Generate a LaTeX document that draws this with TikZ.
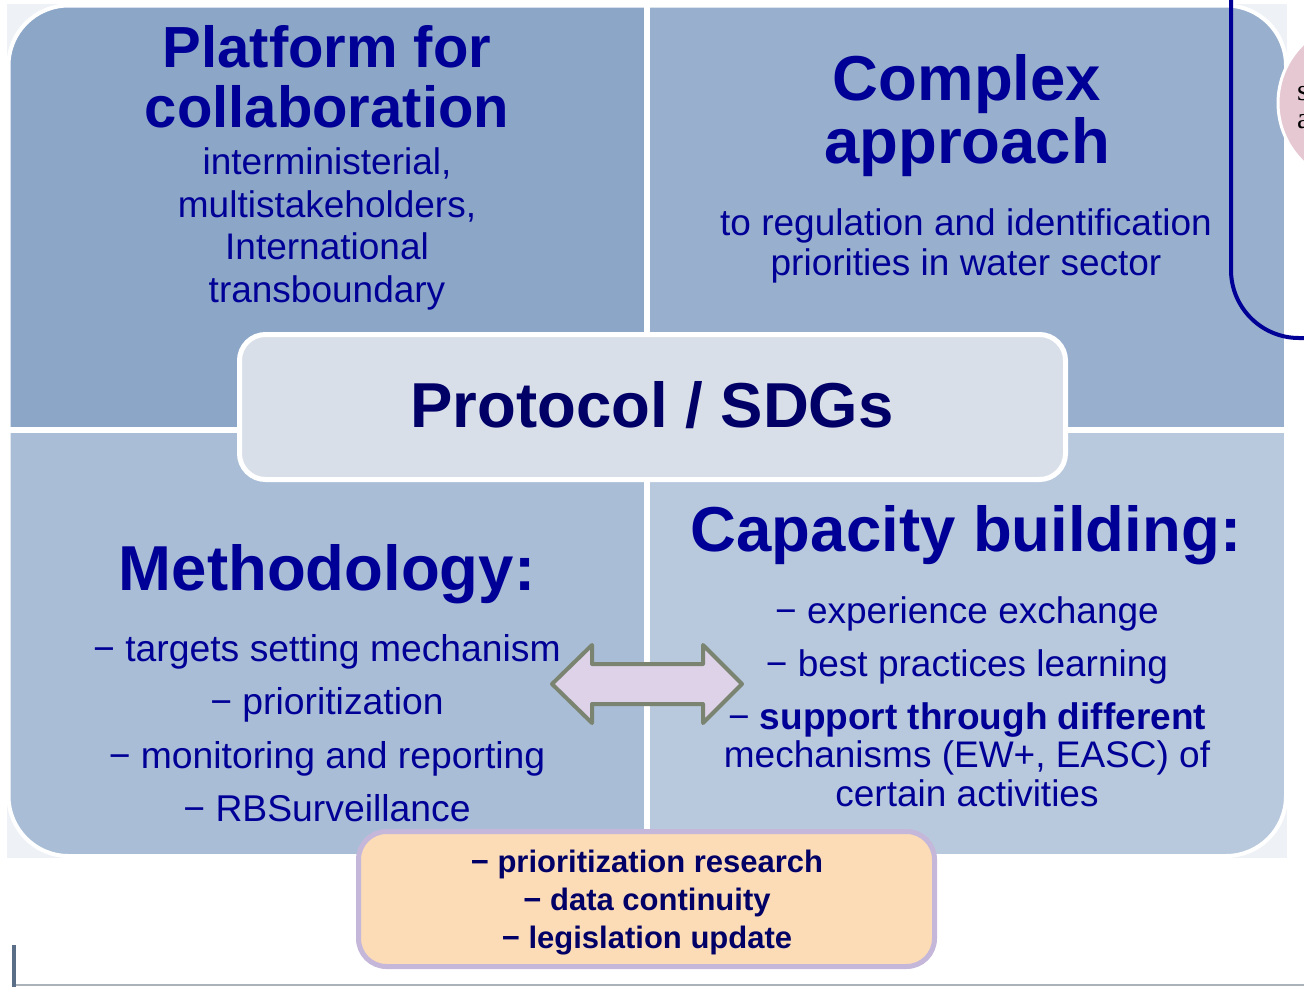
\documentclass[tikz,border=0pt]{standalone}
\usepackage{fontspec}
\setmainfont{Liberation Sans}
\newfontfamily\myserif{Liberation Serif}
\definecolor{pagebg}{RGB}{238,242,246}
\definecolor{qtl}{RGB}{139,166,199}
\definecolor{qtr}{RGB}{152,176,206}
\definecolor{qbl}{RGB}{169,190,214}
\definecolor{qbr}{RGB}{184,201,221}
\definecolor{navy}{RGB}{0,0,150}
\definecolor{darknavy}{RGB}{0,0,102}
\definecolor{centerfill}{RGB}{217,223,233}
\definecolor{notefill}{RGB}{251,220,182}
\definecolor{noteedge}{RGB}{197,183,217}
\definecolor{arrowfill}{RGB}{221,210,232}
\definecolor{arrowedge}{RGB}{122,132,112}
\definecolor{pinkfill}{RGB}{230,200,210}
\definecolor{railgray}{RGB}{170,178,186}
\definecolor{postgray}{RGB}{90,110,135}
\begin{document}
\begin{tikzpicture}[x=1pt,y=-1pt,
  txt/.style={text=navy,align=center,inner sep=0pt},
  bigtitle/.style={txt,font=\fontsize{63.5}{63}\selectfont\bfseries},
  midtitle/.style={txt,font=\fontsize{58}{60}\selectfont\bfseries},
  subtext/.style={txt,font=\fontsize{37}{42.5}\selectfont},
  quad/.style={rounded corners=60},
  centerbox/.style={fill=centerfill,draw=white,line width=5,rounded corners=26},
  notebox/.style={fill=notefill,draw=noteedge,line width=5,rounded corners=28}
]
\useasboundingbox (0,0) rectangle (1304,986);
\clip (0,0) rectangle (1304,986);
\fill[white] (0,0) rectangle (1304,986);
% light background
\fill[pagebg] (7,4) rectangle (1287,858);
% quadrants
\begin{scope}\clip (0,0) rectangle (647,430);
  \fill[qtl,quad] (8.5,5.5) rectangle (1286,856);\end{scope}
\begin{scope}\clip (647,0) rectangle (1304,430);
  \fill[qtr,quad] (8.5,5.5) rectangle (1286,856);\end{scope}
\begin{scope}\clip (0,430) rectangle (647,986);
  \fill[qbl,quad] (8.5,5.5) rectangle (1286,856);\end{scope}
\begin{scope}\clip (647,430) rectangle (1304,986);
  \fill[qbr,quad] (8.5,5.5) rectangle (1286,856);\end{scope}
\draw[white,line width=4,quad] (8.5,5.5) rectangle (1286,856);
\coordinate (vt) at (647,0);
\coordinate (vb) at (647,858);
\coordinate (hl) at (0,430);
\coordinate (hr) at (1290,430);
\draw[white,line width=5.5] (vt) -- (vb);
\draw[white,line width=6] (hl) -- (hr);
% right side partial elements
\coordinate (ra) at (1231,-10);
\coordinate (rb) at (1231,338);
\coordinate (rc) at (1320,338);
\draw[navy,line width=4,rounded corners=68] (ra) -- (rb) -- (rc);
\node[circle,fill=pinkfill,draw=white,line width=3,minimum size=164,inner sep=0] (pink) at (1360,103) {};
\node[anchor=base west,inner sep=0,font=\myserif\fontsize{30}{30}\selectfont] (ps) at (1297,100) {s};
\node[anchor=base west,inner sep=0,font=\myserif\fontsize{30}{30}\selectfont] (pa) at (1297,128) {a};
% center box
\draw[centerbox] (239.5,334.5) rectangle (1065.5,479.5);
\node[txt,text=darknavy,font=\fontsize{63.5}{63}\selectfont\bfseries] (proto) at (652,405) {Protocol / SDGs};
% double arrow
\draw[fill=arrowfill,draw=arrowedge,line width=4,line join=round]
  (552,684) -- (592,645) -- (592,664) -- (703,664) -- (703,645) -- (742,684)
  -- (703,723) -- (703,704) -- (592,704) -- (592,723) -- cycle;
% top-left
\node[midtitle] (plat) at (327,77) {Platform for\\collaboration};
\node[subtext] (platsub) at (327,229) {interministerial,\\multistakeholders,\\International\\transboundary};
% top-right
\node[bigtitle] (cplx) at (967,116) {Complex\\approach};
\node[txt,font=\fontsize{37}{40}\selectfont] (cplxsub) at (966,246) {to regulation and identification\\priorities in water sector};
% bottom-left
\node[bigtitle] (meth) at (327,574) {Methodology:};
\node[txt,font=\fontsize{37.3}{53.5}\selectfont] (methitems) at (327,728) {− targets setting mechanism\\− prioritization\\− monitoring and reporting\\− RBSurveillance};
% bottom-right
\node[bigtitle] (cap) at (966,535) {Capacity building:};
\node[txt,font=\fontsize{37}{38.5}\selectfont] (capitems) at (967,701.5) {− experience exchange\\[14.5pt]− best practices learning\\[14.5pt]− \textbf{support through different}\\mechanisms (EW+, EASC) of\\certain activities};
% note box
\draw[notebox] (358.5,831.5) rectangle (934.5,966.5);
\node[txt,text=darknavy,font=\fontsize{31}{38}\selectfont\bfseries] (notes) at (647,903) {− prioritization research\\− data continuity\\− legislation update};
% bottom rails
\coordinate (rail1) at (14,985);
\coordinate (rail2) at (1304,985);
\draw[railgray,line width=1.5] (rail1) -- (rail2);
\coordinate (post1) at (14,945);
\coordinate (post2) at (14,990);
\draw[postgray,line width=4] (post1) -- (post2);
\end{tikzpicture}
\end{document}
